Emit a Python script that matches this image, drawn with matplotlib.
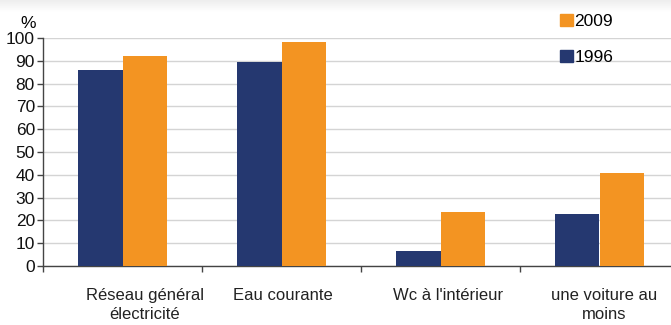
import numpy as np
import matplotlib
matplotlib.use("Agg")
import matplotlib.pyplot as plt
from matplotlib.patches import Patch

plt.rcParams['font.family'] = ['Liberation Sans', 'DejaVu Sans']

categories = ["Réseau général\nélectricité", "Eau courante", "Wc à l'intérieur", "une voiture au\nmoins"]
vals_1996 = [86, 89.5, 6.6, 22.7]
vals_2009 = [92, 98.2, 23.5, 40.8]
yticks = list(range(0, 101, 10))

navy = '#253870'
orange = '#F39422'

fig = plt.figure(figsize=(6.71, 3.25), dpi=100)

# faint grey shadow along the top edge
grad = fig.add_axes([0, 1 - 12 / 325, 1, 12 / 325])
grad.imshow(np.linspace(0.93, 1.0, 50).reshape(-1, 1), cmap='gray', vmin=0, vmax=1,
            aspect='auto', extent=[0, 1, 0, 1])
grad.axis('off')

ax = fig.add_axes([43 / 671, 59 / 325, 636 / 671, 228 / 325])

x = np.arange(len(categories))
w = 0.283
ax.bar(x - w / 2, vals_1996, w, color=navy, zorder=3)
ax.bar(x + w / 2, vals_2009, w, color=orange, zorder=3)

ax.set_xlim(-0.5, len(categories) - 0.5)
ax.set_ylim(0, 100)
ax.set_yticks(yticks)
ax.set_yticklabels([str(v) for v in yticks], fontsize=12.5)
ax.yaxis.grid(True, color='#d4d4d4', linewidth=1, zorder=0)

# labels sit slightly right of the group centres in the original
label_shift = np.array([0.14, 0.01, 0.05, 0.03])
ax.set_xticks(np.arange(len(categories) + 1) - 0.5, minor=True)
ax.set_xticks(x + label_shift)
ax.set_xticklabels(categories, fontsize=12, color='#222222', linespacing=1.35)
ax.tick_params(axis='x', which='major', length=0, pad=16)
ax.tick_params(axis='x', which='minor', length=4.3, width=1, color='#444444', direction='out')
ax.tick_params(axis='y', length=4.3, width=1, color='#444444', pad=1.5, labelcolor='#111111')

for s in ['top', 'right']:
    ax.spines[s].set_visible(False)
for s in ['left', 'bottom']:
    ax.spines[s].set_color('#444444')
    ax.spines[s].set_linewidth(1)

fig.text(28 / 671, 1 - 23 / 325, '%', fontsize=12.5, ha='center', va='center')

handles = [Patch(color=orange, label='2009'), Patch(color=navy, label='1996')]
fig.legend(handles=handles, loc='upper left', bbox_to_anchor=(544 / 671, 1 + 2 / 325),
           frameon=False, fontsize=12.5, handlelength=0.75, handleheight=0.7,
           handletextpad=0.1, labelspacing=1.2)

fig.savefig('out.png', dpi=100)
